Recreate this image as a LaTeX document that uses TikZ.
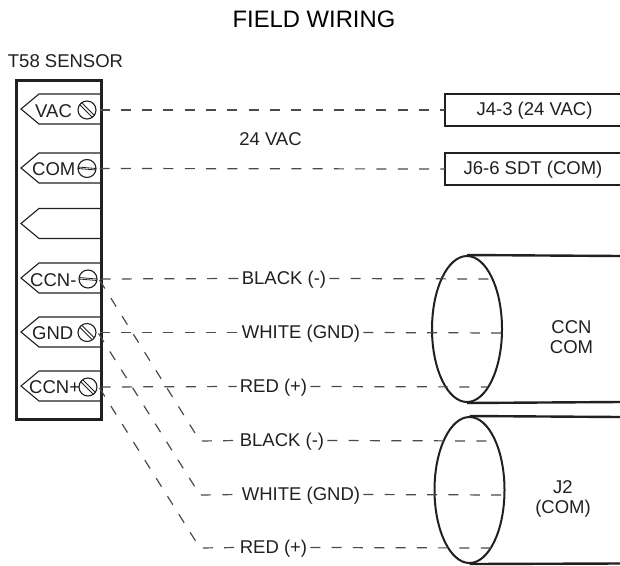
\documentclass[tikz,border=0pt]{standalone}
\usepackage{fontspec}
\setmainfont{Liberation Sans}
\usetikzlibrary{calc,shapes.geometric}
\definecolor{ink}{HTML}{231F20}
\definecolor{wire}{HTML}{4A4A4A}
\tikzset{
  x=1pt,y=-1pt,
  thickbox/.style={draw=ink,line width=2.6pt},
  wirepath/.style={draw=wire,line width=1.2pt,dash pattern=on 10pt off 11.3pt},
  lbl/.style={text=ink,font=\fontsize{18.5}{20}\selectfont,inner sep=0pt,align=center,yshift=-1.5pt},
  wirelbl/.style={lbl,inner xsep=3pt,inner ysep=1pt},
  term/.style={draw=ink,line width=1.1pt},
  screwc/.style={draw=ink,line width=1.1pt,circle,minimum size=18pt,inner sep=0pt},
  cable/.style={draw=ink,line width=2pt},
  cableline/.style={draw=ink,line width=2.4pt},
}
\newcommand{\terminal}[1]{%
  \draw[term] (100,#1-15) -- (39,#1-15) -- (21,#1) -- (39,#1+15) -- (100,#1+15);
}
\begin{document}
\begin{tikzpicture}
\useasboundingbox (0,0) rectangle (620,565);
\node[lbl,text=black,font=\fontsize{23.8}{26}\selectfont] (title) at (314,17.5) {FIELD WIRING};
\node[lbl] (sensorlabel) at (65.5,59.5) {T58 SENSOR};
\node[minimum width=85pt,minimum height=339pt,thickbox,anchor=north west,inner sep=0pt] (sensor) at (15,79) {};
\terminal{109}
\terminal{168}
\terminal{223.5}
\terminal{278}
\terminal{332}
\terminal{386}
\node[lbl,anchor=west] (tvac) at (35,109.5) {VAC};
\node[lbl,anchor=west] (tcom) at (32,168) {COM};
\node[lbl,anchor=west] (tccnm) at (30,278.5) {CCN-};
\node[lbl,anchor=west] (tgnd) at (32,332) {GND};
\node[lbl,anchor=west] (tccnp) at (29,386) {CCN+};
\node[screwc] (svac) at (87,110) {};
\node[screwc] (scom) at (87,168.5) {};
\node[screwc] (sccnm) at (88,279) {};
\node[screwc] (sgnd) at (87,332.5) {};
\node[screwc] (sccnp) at (88,387) {};
\foreach \s in {svac,sgnd,sccnp}{
  \draw[ink,line width=.8pt] ($(\s)+(-5.5,-7.5)$) -- ($(\s)+(7.5,5.5)$);
  \draw[ink,line width=.8pt] ($(\s)+(-7.5,-5.5)$) -- ($(\s)+(5.5,7.5)$);
}
\foreach \s in {scom,sccnm}{
  \draw[ink,line width=.8pt] ($(\s)+(-9,-1.5)$) -- ($(\s)+(9,0)$);
  \draw[ink,line width=.8pt] ($(\s)+(-9,0)$) -- ($(\s)+(9,1.5)$);
}
% boxes open to the right edge
\draw[thickbox] (620,94) -- (445,94) -- (445,126) -- (620,126);
\draw[thickbox] (620,153) -- (445,153) -- (445,185) -- (620,185);
\node[lbl] (j4t) at (534.5,109.5) {J4-3 (24 VAC)};
\node[lbl] (j6t) at (533,168.5) {J6-6 SDT (COM)};
\coordinate (j4in) at (445,110);
\coordinate (j6in) at (445,169);
\node[lbl] (v24) at (270.5,138) {24 VAC};
% cables
\node[cable,ellipse,minimum width=70pt,minimum height=146pt,inner sep=0pt] (cab1) at (467,329) {};
\node[cable,ellipse,minimum width=70pt,minimum height=146pt,inner sep=0pt] (cab2) at (469.5,490) {};
\draw[cableline] (cab1.north) -- (620,256);
\draw[cableline] (cab1.south) -- (620,402);
\draw[cableline] (cab2.north) -- (620,417);
\draw[cableline] (cab2.south) -- (620,563.5);
\node[lbl] (ccncom) at (571.5,336) {CCN\\COM};
\node[lbl] (j2com) at (563,497.5) {J2\\(COM)};
% wire labels
\node[wirelbl] (l1) at (284,278.5) {BLACK (-)};
\node[wirelbl] (l2) at (301,332.5) {WHITE (GND)};
\node[wirelbl] (l3) at (273.5,386.5) {RED (+)};
\node[wirelbl] (l4) at (282,440.5) {BLACK (-)};
\node[wirelbl] (l5) at (301,494.5) {WHITE (GND)};
\node[wirelbl] (l6) at (273.5,547.5) {RED (+)};
\coordinate (w1) at ([yshift=1.5pt]l1.west);
\coordinate (w2) at ([yshift=1.5pt]l2.west);
\coordinate (w3) at ([yshift=1.5pt]l3.west);
\coordinate (w4) at ([yshift=1.5pt]l4.west);
\coordinate (w5) at ([yshift=1.5pt]l5.west);
\coordinate (w6) at ([yshift=1.5pt]l6.west);
\coordinate (x1) at ([yshift=1.5pt]l1.east);
\coordinate (x2) at ([yshift=1.5pt]l2.east);
\coordinate (x3) at ([yshift=1.5pt]l3.east);
\coordinate (x4) at ([yshift=1.5pt]l4.east);
\coordinate (x5) at ([yshift=1.5pt]l5.east);
\coordinate (x6) at ([yshift=1.5pt]l6.east);
\coordinate (e1) at (493,279);
\coordinate (e2) at (502,333);
\coordinate (e3) at (487,387);
\coordinate (e4) at (490,441);
\coordinate (e5) at (504,495);
\coordinate (e6) at (491,548);
\coordinate (k4) at (200,441);
\coordinate (k5) at (200,495);
\coordinate (k6) at (200,548);
% wires
\draw[wirepath] (svac.east) ++(3,0) -- (j4in);
\draw[wirepath] (scom.east) ++(3,0) -- (j6in);
\draw[wirepath] (sccnm.east) ++(3,0) -- (w1);
\draw[wirepath] (sgnd.east) ++(3,0) -- (w2);
\draw[wirepath] (sccnp.east) ++(3,0) -- (w3);
\draw[wirepath] (x1) -- (e1);
\draw[wirepath] (x2) -- (e2);
\draw[wirepath] (x3) -- (e3);
\draw[wirepath] (x4) -- (e4);
\draw[wirepath] (x5) -- (e5);
\draw[wirepath] (x6) -- (e6);
\draw[wirepath] (sccnm.east) ++(2,1) -- (k4) -- (w4);
\draw[wirepath] (sgnd.east) ++(2,1) -- (k5) -- (w5);
\draw[wirepath] (sccnp.east) ++(2,1) -- (k6) -- (w6);
\end{tikzpicture}
\end{document}
